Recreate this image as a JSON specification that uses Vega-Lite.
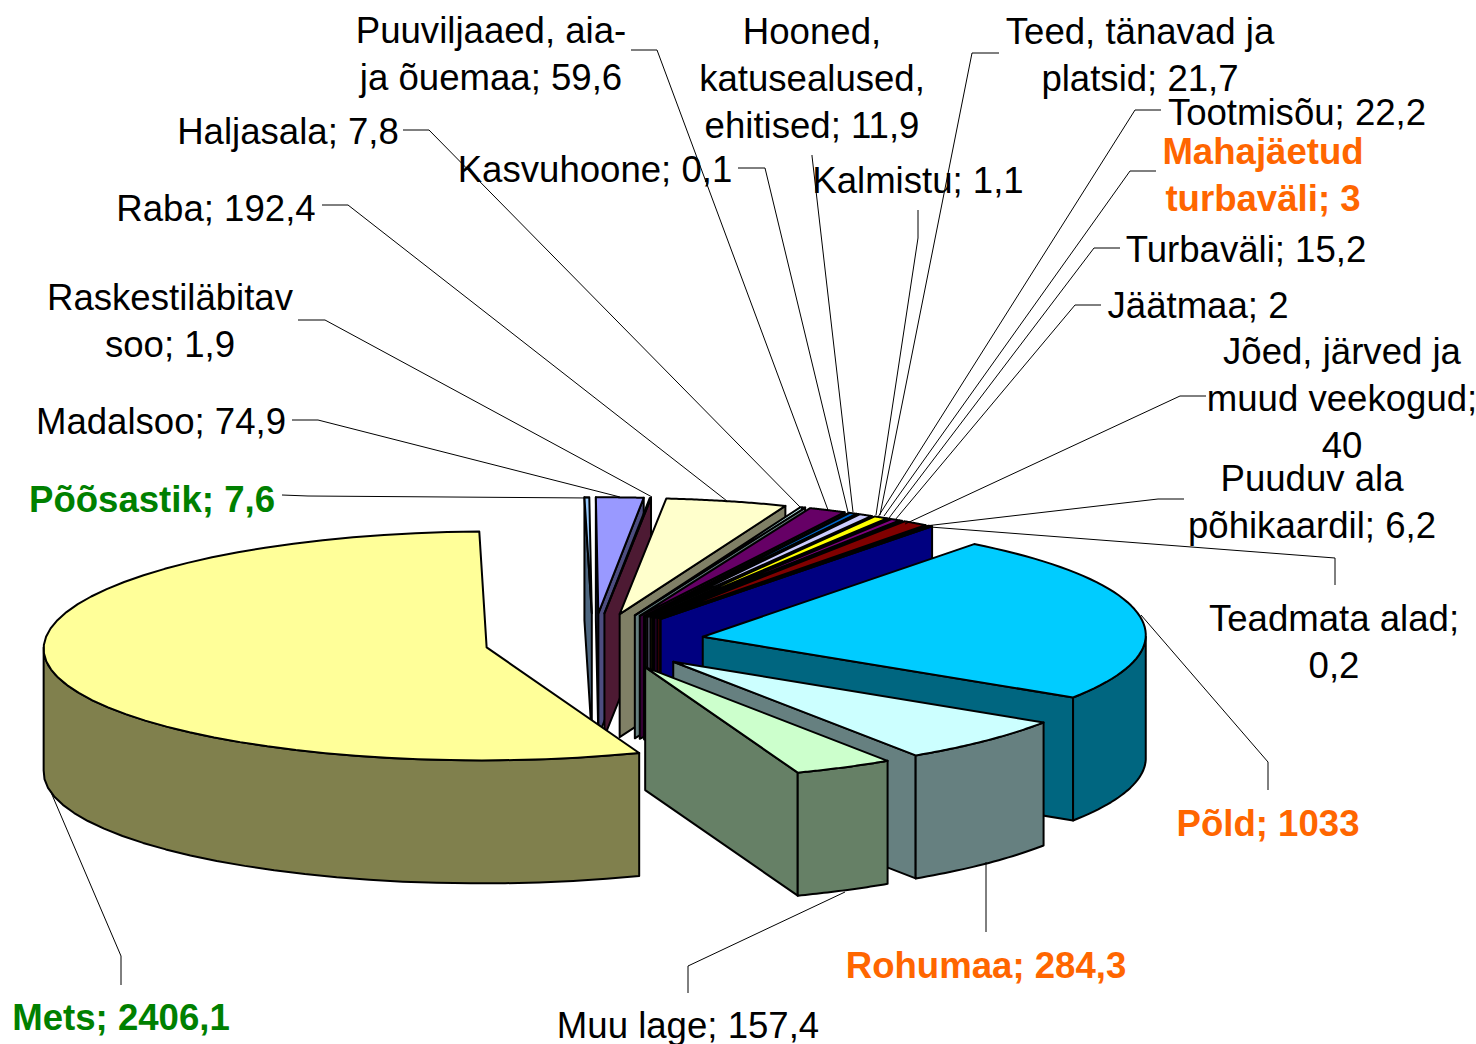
{
"$schema":"https://vega.github.io/schema/vega-lite/v6.json",
"width":1476,"height":1044,"padding":0,"autosize":{"type":"none"},"background":"white",
"config":{"view":{"stroke":null}},
"datasets":{
"slices":[
{"name":"Põõsastik","value":7.6,"pieOrder":5},
{"name":"Madalsoo","value":74.9,"pieOrder":6},
{"name":"Raskestiläbitav soo","value":1.9,"pieOrder":7},
{"name":"Raba","value":192.4,"pieOrder":8},
{"name":"Haljasala","value":7.8,"pieOrder":9},
{"name":"Puuviljaaed, aia- ja õuemaa","value":59.6,"pieOrder":10},
{"name":"Kasvuhoone","value":0.1,"pieOrder":11},
{"name":"Hooned, katusealused, ehitised","value":11.9,"pieOrder":12},
{"name":"Kalmistu","value":1.1,"pieOrder":13},
{"name":"Teed, tänavad ja platsid","value":21.7,"pieOrder":14},
{"name":"Tootmisõu","value":22.2,"pieOrder":15},
{"name":"Mahajäetud turbaväli","value":3,"pieOrder":16},
{"name":"Turbaväli","value":15.2,"pieOrder":17},
{"name":"Jäätmaa","value":2,"pieOrder":18},
{"name":"Jõed, järved ja muud veekogud","value":40,"pieOrder":19},
{"name":"Puuduv ala põhikaardil","value":6.2,"pieOrder":20},
{"name":"Teadmata alad","value":0.2,"pieOrder":21},
{"name":"Põld","value":1033,"pieOrder":1},
{"name":"Mets","value":2406.1,"pieOrder":4},
{"name":"Rohumaa","value":284.3,"pieOrder":2},
{"name":"Muu lage","value":157.4,"pieOrder":3}
],
"labels":[
{"text":"Puuviljaaed, aia-\nja õuemaa; 59,6","cls":"plain","lx":491,"ly":42,"ax":631,"ay":50,"bx":657,"by":50,"cx":828,"cy":510},
{"text":"Hooned,\nkatusealused,\nehitised; 11,9","cls":"plain","lx":812,"ly":43,"ax":812,"ay":155,"bx":812,"by":156,"cx":853,"cy":512},
{"text":"Teed, tänavad ja\nplatsid; 21,7","cls":"plain","lx":1140,"ly":43,"ax":999,"ay":53,"bx":972,"by":53,"cx":880,"cy":515},
{"text":"Tootmisõu; 22,2","cls":"plain","lx":1297,"ly":124,"ax":1161,"ay":110,"bx":1135,"by":110,"cx":878,"cy":517},
{"text":"Mahajäetud\nturbaväli; 3","cls":"orange","lx":1263,"ly":163,"ax":1156,"ay":171,"bx":1130,"by":171,"cx":884,"cy":516},
{"text":"Turbaväli; 15,2","cls":"plain","lx":1246,"ly":261,"ax":1120,"ay":248,"bx":1094,"by":248,"cx":889,"cy":518},
{"text":"Jäätmaa; 2","cls":"plain","lx":1198,"ly":317,"ax":1101,"ay":305,"bx":1075,"by":305,"cx":895,"cy":520},
{"text":"Jõed, järved ja\nmuud veekogud;\n40","cls":"plain","lx":1342,"ly":363,"ax":1206,"ay":396,"bx":1180,"by":396,"cx":905,"cy":524},
{"text":"Puuduv ala\npõhikaardil; 6,2","cls":"plain","lx":1312,"ly":490,"ax":1184,"ay":499,"bx":1158,"by":499,"cx":925,"cy":526},
{"text":"Teadmata alad;\n0,2","cls":"plain","lx":1334,"ly":630,"ax":1335,"ay":585,"bx":1335,"by":558,"cx":930,"cy":527},
{"text":"Põld; 1033","cls":"orange","lx":1268,"ly":835,"ax":1268,"ay":790,"bx":1268,"by":762,"cx":1141,"cy":615},
{"text":"Rohumaa; 284,3","cls":"orange","lx":986,"ly":977,"ax":986,"ay":932,"bx":986,"by":905,"cx":986,"cy":862},
{"text":"Muu lage; 157,4","cls":"plain","lx":688,"ly":1037,"ax":688,"ay":993,"bx":688,"by":966,"cx":845,"cy":892},
{"text":"Mets; 2406,1","cls":"green","lx":121,"ly":1029,"ax":121,"ay":985,"bx":121,"by":956,"cx":50,"cy":790},
{"text":"Põõsastik; 7,6","cls":"green","lx":152,"ly":511,"ax":282,"ay":495,"bx":308,"by":496,"cx":590,"cy":498},
{"text":"Madalsoo; 74,9","cls":"plain","lx":161,"ly":433,"ax":292,"ay":420,"bx":318,"by":420,"cx":620,"cy":497},
{"text":"Raskestiläbitav\nsoo; 1,9","cls":"plain","lx":170,"ly":309,"ax":298,"ay":320,"bx":325,"by":320,"cx":652,"cy":497},
{"text":"Raba; 192,4","cls":"plain","lx":216,"ly":220,"ax":322,"ay":205,"bx":348,"by":205,"cx":727,"cy":501},
{"text":"Haljasala; 7,8","cls":"plain","lx":288,"ly":143,"ax":403,"ay":130,"bx":429,"by":130,"cx":802,"cy":509},
{"text":"Kasvuhoone; 0,1","cls":"plain","lx":595,"ly":181,"ax":738,"ay":168,"bx":765,"by":168,"cx":848,"cy":512},
{"text":"Kalmistu; 1,1","cls":"plain","lx":918,"ly":192,"ax":918,"ay":210,"bx":918,"by":238,"cx":876,"cy":515}
]
},
"layer":[
{
"data":{"name":"slices"},
"transform":[
{"joinaggregate":[{"op":"sum","field":"value","as":"total"}]},
{"window":[{"op":"sum","field":"value","as":"cum"}],"sort":[{"field":"pieOrder","order":"ascending"}]},
{"calculate":"37+360*(datum.cum-datum.value)/datum.total","as":"s"},
{"calculate":"37+360*datum.cum/datum.total","as":"e"},
{"calculate":"(datum.s+datum.e)/2*PI/180","as":"mid"},
{"calculate":"594.5+110*sin(datum.mid)","as":"ox"},
{"calculate":"641.8-28.5*cos(datum.mid)","as":"oy"},
{"calculate":"['startFace','endFace','wall','top']","as":"part"},
{"flatten":["part"]},
{"filter":"datum.part=='top' || (datum.part=='wall' && datum.e>90 && datum.s<270) || (datum.part=='startFace' && sin(datum.s*PI/180)<0) || (datum.part=='endFace' && sin(datum.e*PI/180)>0)"},
{"calculate":"sequence(0,51)","as":"k"},
{"flatten":["k"]},
{"filter":"(datum.part=='top' && datum.k<=49) || datum.part=='wall' || datum.k<=3"},
{"calculate":"datum.part=='top' ? (datum.s+(datum.e-datum.s)*max(datum.k-1,0)/48) : datum.part=='startFace' ? datum.s : datum.part=='endFace' ? datum.e : (datum.k<=24 ? max(datum.s,90)+(min(datum.e,270)-max(datum.s,90))*datum.k/24 : min(datum.e,270)+(max(datum.s,90)-min(datum.e,270))*(datum.k-25)/25)","as":"deg"},
{"calculate":"datum.part=='top' ? datum.k>0 : datum.part=='wall' ? true : (datum.k==1||datum.k==2)","as":"rim"},
{"calculate":"datum.part=='top' ? false : datum.part=='wall' ? datum.k>24 : datum.k>=2","as":"down"},
{"calculate":"datum.ox+(datum.rim?443*sin(datum.deg*PI/180)+6*cos(datum.deg*PI/180):0)","as":"px"},
{"calculate":"datum.oy-(datum.rim?(cos(datum.deg*PI/180)>=0?116:113)*cos(datum.deg*PI/180):0)+(datum.down?123:0)","as":"py"},
{"calculate":"datum.part=='top' ? datum.name : datum.name+' (külg)'","as":"shade"},
{"calculate":"datum.name+'/'+datum.part","as":"poly"}
],
"mark":{"type":"line","interpolate":"linear-closed","stroke":"#000000","strokeWidth":2,"strokeJoin":"round"},
"encoding":{
"x":{"field":"px","type":"quantitative","scale":{"domain":[0,1476],"nice":false,"zero":false},"axis":null},
"y":{"field":"py","type":"quantitative","scale":{"domain":[0,1044],"reverse":true,"nice":false,"zero":false},"axis":null},
"order":{"field":"k","type":"quantitative"},
"detail":{"field":"poly"},
"fill":{"field":"shade","type":"nominal","legend":null,"scale":{
"domain":["Põõsastik","Madalsoo","Raskestiläbitav soo","Raba","Haljasala","Puuviljaaed, aia- ja õuemaa","Kasvuhoone","Hooned, katusealused, ehitised","Kalmistu","Teed, tänavad ja platsid","Tootmisõu","Mahajäetud turbaväli","Turbaväli","Jäätmaa","Jõed, järved ja muud veekogud","Puuduv ala põhikaardil","Teadmata alad","Põld","Mets","Rohumaa","Muu lage",
"Põõsastik (külg)","Madalsoo (külg)","Raskestiläbitav soo (külg)","Raba (külg)","Haljasala (külg)","Puuviljaaed, aia- ja õuemaa (külg)","Kasvuhoone (külg)","Hooned, katusealused, ehitised (külg)","Kalmistu (külg)","Teed, tänavad ja platsid (külg)","Tootmisõu (külg)","Mahajäetud turbaväli (külg)","Turbaväli (külg)","Jäätmaa (külg)","Jõed, järved ja muud veekogud (külg)","Puuduv ala põhikaardil (külg)","Teadmata alad (külg)","Põld (külg)","Mets (külg)","Rohumaa (külg)","Muu lage (külg)"],
"range":["#99CCFF","#9999FF","#993366","#FFFFCC","#CCFFFF","#660066","#FF8080","#0066CC","#CCCCFF","#CCCCFF","#FFFF00","#008080","#800080","#800080","#800000","#800000","#0000FF","#00CCFF","#FFFF99","#CCFFFF","#CCFFCC",
"#4D6680","#4D4D80","#4D1A33","#808066","#668080","#330033","#804040","#003366","#666680","#666680","#808000","#004040","#400040","#400040","#400000","#400000","#000080","#006680","#80804D","#668080","#668066"]
}}
}
},
{
"data":{"name":"labels"},
"mark":{"type":"rule","color":"#000000","strokeWidth":1},
"encoding":{"x":{"field":"ax","type":"quantitative"},"y":{"field":"ay","type":"quantitative"},"x2":{"field":"bx"},"y2":{"field":"by"}}
},
{
"data":{"name":"labels"},
"mark":{"type":"rule","color":"#000000","strokeWidth":1},
"encoding":{"x":{"field":"bx","type":"quantitative"},"y":{"field":"by","type":"quantitative"},"x2":{"field":"cx"},"y2":{"field":"cy"}}
},
{
"data":{"name":"labels"},
"transform":[{"filter":"datum.cls=='plain'"}],
"mark":{"type":"text","font":"Liberation Sans","fontSize":36.6,"dy":1,"lineBreak":"\n","lineHeight":47,"align":"center","baseline":"alphabetic","color":"#000000"},
"encoding":{"x":{"field":"lx","type":"quantitative"},"y":{"field":"ly","type":"quantitative"},"text":{"field":"text"}}
},
{
"data":{"name":"labels"},
"transform":[{"filter":"datum.cls!='plain'"}],
"mark":{"type":"text","font":"Liberation Sans","fontSize":36.6,"dy":1,"fontWeight":"bold","lineBreak":"\n","lineHeight":47,"align":"center","baseline":"alphabetic"},
"encoding":{"x":{"field":"lx","type":"quantitative"},"y":{"field":"ly","type":"quantitative"},"text":{"field":"text"},
"color":{"field":"cls","type":"nominal","legend":null,"scale":{"domain":["orange","green"],"range":["#FF6600","#008000"]}}}
}
]
}
